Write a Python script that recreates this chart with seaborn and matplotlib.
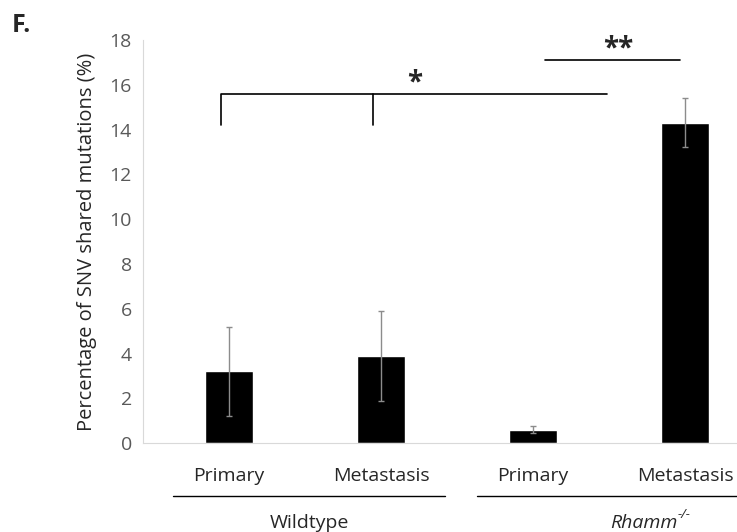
import pandas as pd
import seaborn as sns
import matplotlib.pyplot as plt

groups = ['Wildtype', 'Wildtype', 'Rhamm', 'Rhamm']
sites = ['Primary', 'Metastasis', 'Primary', 'Metastasis']
values = [3.2, 3.9, 0.6, 14.3]
errors = [2.0, 2.0, 0.15, 1.1]

df = pd.DataFrame({'group': groups, 'site': sites, 'value': values})
df['label'] = [f'{g}_{s}' for g, s in zip(groups, sites)]

sns.set_style('white')
plt.rcParams['font.family'] = ['Open Sans', 'DejaVu Sans']

fig = plt.figure(figsize=(7.37, 5.32), dpi=100)
ax = fig.add_axes([0.194, 0.167, 0.806, 0.758])

sns.barplot(data=df, x='label', y='value', color='black', width=0.315,
            errorbar=None, ax=ax, saturation=1)
ax.errorbar(range(len(values)), values, yerr=errors, fmt='none',
            ecolor='#8c8c8c', elinewidth=1, capsize=2, capthick=1)

ax.set_ylim(0, 18)
ax.set_xlim(-0.566, 3.342)
ax.set_yticks(range(0, 19, 2))
ax.tick_params(axis='y', length=0, labelsize=14, labelcolor='#595959', pad=8)
ax.tick_params(axis='x', length=0, labelsize=14, pad=17)
ax.set_xticks(range(4))
ax.set_xticklabels(sites)
ax.set_xlabel('')
ax.set_ylabel('Percentage of SNV shared mutations (%)', fontsize=14.5, labelpad=9)
for s in ['top', 'right']:
    ax.spines[s].set_visible(False)
ax.spines['left'].set_color('#d9d9d9')
ax.spines['bottom'].set_color('#d9d9d9')

# significance brackets
ax.plot([-0.05, -0.05, 2.49], [14.2, 15.6, 15.6], color='black', lw=1.2, clip_on=False)
ax.plot([0.95, 0.95], [14.2, 15.6], color='black', lw=1.2, clip_on=False)
ax.text(1.22, 15.45, '*', ha='center', va='bottom', fontsize=20, fontweight='bold')
ax.plot([2.08, 2.97], [17.1, 17.1], color='black', lw=1.2, clip_on=False)
ax.text(2.56, 16.95, '**', ha='center', va='bottom', fontsize=20, fontweight='bold')

# group lines and labels under the axis
trans = ax.get_xaxis_transform()
ax.plot([-0.37, 1.42], [-0.13, -0.13], color='black', lw=1, transform=trans, clip_on=False)
ax.plot([1.63, 3.342], [-0.13, -0.13], color='black', lw=1, transform=trans, clip_on=False)
ax.text(0.53, -0.198, 'Wildtype', ha='center', va='center', fontsize=14, transform=trans)
ax.text(2.95, -0.198, 'Rhamm', ha='right', va='center', fontsize=14,
        style='italic', transform=trans)
ax.text(2.95, -0.178, '-/-', ha='left', va='center', fontsize=9.5,
        style='italic', transform=trans)

fig.text(0.016, 0.975, 'F.', fontsize=18, fontweight='bold', va='top')

fig.savefig('out.png', dpi=100)
